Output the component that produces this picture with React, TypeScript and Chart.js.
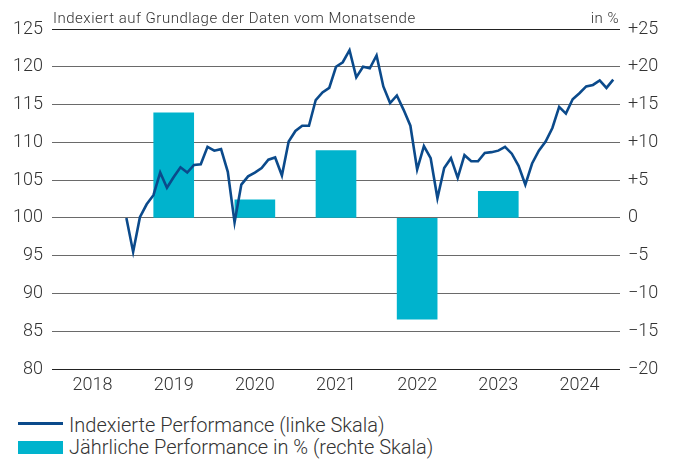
import React, { useEffect, useRef } from "react";
import { Chart, registerables } from "chart.js";

Chart.register(...registerables);

const years = ["2018", "2019", "2020", "2021", "2022", "2023", "2024"];
const annualPerf = [null, 13.9, 2.4, 8.9, -13.4, 3.5, null];
// monthly indexed performance, starting Dec 2018 (month index 11 from Jan 2018)
const startMonth = 11;
const indexed = [
  100.0, 95.5, 100.1, 101.8, 103.0, 106.0, 104.0, 105.4, 106.7, 106.0,
  107.0, 107.1, 109.4, 108.9, 109.1, 106.1, 99.4, 104.4, 105.5, 106.0,
  106.6, 107.7, 108.0, 105.6, 110.1, 111.5, 112.2, 112.2, 115.6, 116.6,
  117.2, 120.0, 120.6, 122.2, 118.6, 120.0, 119.8, 121.5, 117.4, 115.2,
  116.2, 114.3, 112.2, 106.4, 109.5, 107.9, 102.6, 106.6, 107.9, 105.3,
  108.3, 107.5, 107.5, 108.6, 108.7, 108.9, 109.4, 108.5, 106.9, 104.4,
  107.2, 108.9, 110.1, 111.9, 114.7, 113.8, 115.7, 116.5, 117.4, 117.6,
  118.2, 117.2, 118.3,
];
const leftTicks = [80, 85, 90, 95, 100, 105, 110, 115, 120, 125];
const rightTicks = [-20, -15, -10, -5, 0, 5, 10, 15, 20, 25];

const LINE_COLOR = "#0b4a8b";
const BAR_COLOR = "#00b3cd";
const TEXT_COLOR = "#333333";
const FONT = "Roboto, 'Liberation Sans', sans-serif";

export default function App() {
  const ref = useRef<HTMLCanvasElement | null>(null);

  useEffect(() => {
    if (!ref.current) return;
    const linePoints = indexed.map((v, i) => ({ x: (startMonth + i) / 12, y: v }));
    const barPoints = annualPerf
      .map((v, i) => (v === null ? null : { x: i + 0.5, y: v }))
      .filter((p) => p !== null);
    const tickFont = { family: FONT, size: 18, weight: 300 as any };
    const chart = new Chart(ref.current, {
      type: "bar",
      data: {
        datasets: [
          {
            type: "line",
            label: "Indexierte Performance (linke Skala)",
            data: linePoints as any,
            xAxisID: "x",
            yAxisID: "y",
            borderColor: LINE_COLOR,
            borderWidth: 2.6,
            pointRadius: 0,
            tension: 0,
            order: 0,
          } as any,
          {
            type: "bar",
            label: "Jährliche Performance in % (rechte Skala)",
            data: barPoints as any,
            xAxisID: "x",
            yAxisID: "y1",
            backgroundColor: BAR_COLOR,
            borderWidth: 0,
            barThickness: 40,
            grouped: false,
            order: 1,
          } as any,
        ],
      },
      options: {
        responsive: false,
        animation: false,
        devicePixelRatio: 1,
        layout: { padding: { top: 29, left: 0, right: 0, bottom: 0 } },
        plugins: { legend: { display: false }, tooltip: { enabled: false } },
        scales: {
          x: {
            type: "linear",
            offset: false,
            min: 0,
            max: 7,
            afterBuildTicks: (s: any) => { s.ticks = years.map((_, i) => ({ value: i + 0.5 })); },
            grid: { display: false, drawTicks: false, offset: false },
            border: { display: false },
            ticks: {
              color: TEXT_COLOR,
              font: tickFont,
              padding: 6,
              maxRotation: 0,
              autoSkip: false,
              callback: (v: any) => years[Math.floor(Number(v))] ?? "",
            },
            afterFit: (s: any) => { s.height = 31; },
          },
          y: {
            type: "linear",
            position: "left",
            min: 80,
            max: 125,
            afterBuildTicks: (s: any) => { s.ticks = leftTicks.map((v) => ({ value: v })); },
            grid: {
              color: (ctx: any) => (ctx.tick && (ctx.tick.value === 125 || ctx.tick.value === 80) ? "#222222" : "#6a6a6a"),
              lineWidth: 1,
              drawTicks: false,
            },
            border: { display: false },
            ticks: { color: TEXT_COLOR, font: tickFont, padding: 9 },
            afterFit: (s: any) => { s.width = 52; },
          },
          y1: {
            type: "linear",
            position: "right",
            min: -20,
            max: 25,
            afterBuildTicks: (s: any) => { s.ticks = rightTicks.map((v) => ({ value: v })); },
            grid: { drawOnChartArea: false, drawTicks: false },
            border: { display: false },
            ticks: {
              color: TEXT_COLOR,
              font: tickFont,
              padding: 8,
              callback: (v: any) => (v > 0 ? "+" + v : v < 0 ? "\u2212" + Math.abs(v) : "0"),
            },
            afterFit: (s: any) => { s.width = 55; },
          },
        },
      },
    });
    return () => chart.destroy();
  }, []);

  const textStyle: React.CSSProperties = {
    position: "absolute",
    fontFamily: FONT,
    fontWeight: 300,
    color: TEXT_COLOR,
    whiteSpace: "nowrap",
  };

  return (
    <div style={{ position: "absolute", left: 0, top: 0, width: 675, height: 462, background: "#fff" }}>
      <canvas ref={ref} width={675} height={400} style={{ position: "absolute", left: 0, top: 0 }} />
      <div style={{ ...textStyle, left: 53, top: 9, fontSize: 15, lineHeight: "18px", letterSpacing: "0.5px" }}>
        Indexiert auf Grundlage der Daten vom Monatsende
      </div>
      <div style={{ ...textStyle, right: 56, top: 9, fontSize: 15, lineHeight: "18px", letterSpacing: "0.5px" }}>in %</div>
      <div style={{ position: "absolute", left: 18, top: 422, width: 45, height: 3, background: LINE_COLOR }} />
      <div style={{ ...textStyle, left: 69, top: 413, fontSize: 20, lineHeight: "24px" }}>
        Indexierte Performance (linke Skala)
      </div>
      <div style={{ position: "absolute", left: 18, top: 441, width: 45, height: 13, background: BAR_COLOR }} />
      <div style={{ ...textStyle, left: 69, top: 435, fontSize: 20, lineHeight: "24px" }}>
        Jährliche Performance in % (rechte Skala)
      </div>
    </div>
  );
}
